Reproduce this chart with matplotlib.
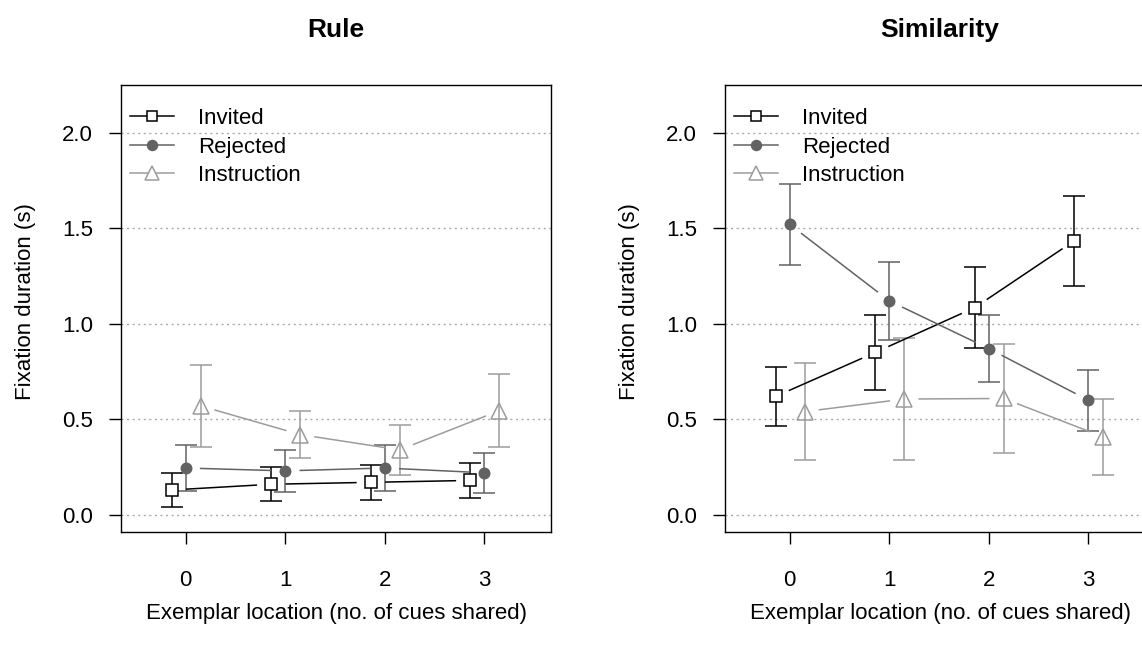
import numpy as np
import matplotlib.pyplot as plt

plt.rcParams['font.family'] = ['Liberation Sans', 'DejaVu Sans']

locations = [0, 1, 2, 3]
series_names = ['Invited', 'Rejected', 'Instruction']

rule_invited = [0.13, 0.16, 0.17, 0.18]
rule_invited_err = [0.09, 0.09, 0.09, 0.09]
rule_rejected = [0.245, 0.23, 0.245, 0.22]
rule_rejected_err = [0.12, 0.11, 0.12, 0.105]
rule_instruction = [0.57, 0.42, 0.34, 0.545]
rule_instruction_err = [0.215, 0.125, 0.13, 0.19]

sim_invited = [0.62, 0.85, 1.085, 1.435]
sim_invited_err = [0.155, 0.195, 0.21, 0.235]
sim_rejected = [1.52, 1.12, 0.87, 0.60]
sim_rejected_err = [0.21, 0.205, 0.175, 0.16]
sim_instruction = [0.54, 0.606, 0.609, 0.408]
sim_instruction_err = [0.255, 0.32, 0.285, 0.2]

yticks = [0.0, 0.5, 1.0, 1.5, 2.0]

# style per series: offset, colour, marker, facecolor, size
styles = [
    (-0.14, 'black', 's', 'white', 8),
    (0.0, '#626262', 'o', '#626262', 7.5),
    (0.15, '#9c9c9c', '^', 'none', 11),
]

FS = 16
W, H = 1142, 646
fig = plt.figure(figsize=(W / 100, H / 100), dpi=100)

ax_w = 430 / W
ax_h = (532 - 85) / H
ax_b = 1 - 532 / H
ax1 = fig.add_axes([121 / W, ax_b, ax_w, ax_h])
ax2 = fig.add_axes([725 / W, ax_b, ax_w, ax_h])


def gap_line(ax, xs, ys, color, gap=15):
    # R type="b" style: segments that stop short of each point
    pts = ax.transData.transform(np.column_stack([xs, ys]))
    inv = ax.transData.inverted()
    for p, q in zip(pts[:-1], pts[1:]):
        d = q - p
        L = np.hypot(*d)
        if L <= 2 * gap:
            continue
        u = d / L
        a = inv.transform(np.array([p + u * gap, q - u * gap]))
        ax.plot(a[:, 0], a[:, 1], color=color, lw=1.1, zorder=3)


def panel(ax, title, data):
    ax.set_xlim(-0.65, 3.67)
    ax.set_ylim(-0.09, 2.25)
    for y in yticks:
        ax.axhline(y, color='#aaaaaa', lw=1, linestyle=(0, (1.5, 2.5)), zorder=1)

    handles = []
    for (vals, errs), (off, col, mk, fc, ms) in zip(data, styles):
        xs = np.array(locations) + off
        ax.errorbar(xs, vals, yerr=errs, fmt='none', ecolor=col, elinewidth=1.1,
                    capsize=8, capthick=1.1, zorder=2)
        gap_line(ax, xs, vals, col)
        ax.plot(xs, vals, linestyle='none', marker=mk, ms=ms, mfc=fc, mec=col,
                mew=1.1, zorder=4)
        h, = ax.plot([], [], color=col, lw=1.1, marker=mk, ms=ms * 0.95,
                     mfc='white' if fc == 'none' else fc, mec=col, mew=1.1)
        handles.append(h)

    ax.legend(handles, series_names, loc='upper left', frameon=False, fontsize=FS,
              handlelength=2.0, handletextpad=1.05, labelspacing=0.34,
              borderaxespad=0, borderpad=0,
              bbox_to_anchor=(9 / 430, 1 - 23 / 447))

    ax.set_xticks(locations)
    ax.set_yticks(yticks)
    ax.set_yticklabels([f'{v:.1f}' for v in yticks])
    ax.tick_params(direction='out', length=8.5, width=1, labelsize=FS, color='black')
    ax.tick_params(axis='x', pad=19)
    ax.tick_params(axis='y', pad=11.5)
    for s in ax.spines.values():
        s.set_linewidth(1)
    ax.set_ylabel('Fixation duration (s)', fontsize=FS, va='center')
    ax.yaxis.set_label_coords(-0.222, 0.515)
    ax.set_xlabel('Exemplar location (no. of cues shared)', fontsize=FS, va='center')
    ax.xaxis.set_label_coords(0.5, -0.182)
    ax.set_title(title, fontsize=19, fontweight='bold', y=1 + 48 / 447,
                 va='baseline', pad=0)


panel(ax1, 'Rule', [(rule_invited, rule_invited_err),
                    (rule_rejected, rule_rejected_err),
                    (rule_instruction, rule_instruction_err)])
panel(ax2, 'Similarity', [(sim_invited, sim_invited_err),
                          (sim_rejected, sim_rejected_err),
                          (sim_instruction, sim_instruction_err)])

fig.savefig('out.png', dpi=100)
